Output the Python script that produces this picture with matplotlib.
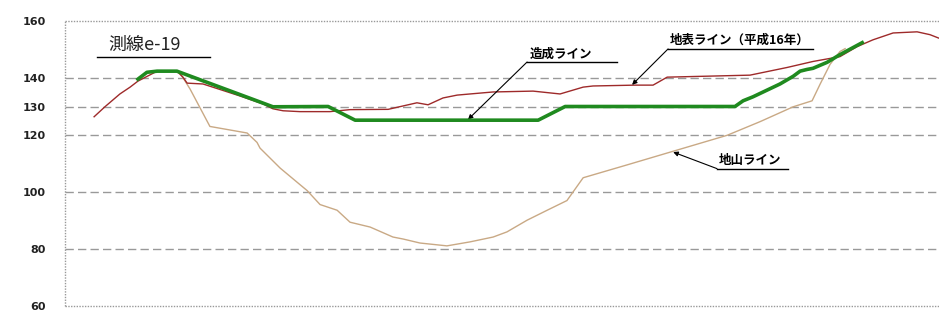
import matplotlib.pyplot as plt

plt.rcParams['font.family'] = ['Noto Sans CJK JP', 'DejaVu Sans']

# station (m) / elevation (m)
ground_x = [9.7, 13.3, 18.3, 21.7, 24.3, 30.7, 37.3, 39.3, 40.7, 46.0, 58.3, 66.0, 69.3,
            72.7, 78.3, 88.3, 95.0, 107.7, 112.7, 117.3, 121.0, 126.0, 130.7, 135.0, 142.7,
            156.0, 165.0, 172.7, 176.0, 190.0, 196.0, 200.7, 228.3, 240.7, 249.3, 258.3,
            264.0, 269.3, 276.0, 284.0, 288.3, 291.7]
ground_y = [126.4, 129.9, 134.4, 136.8, 138.9, 142.4, 142.4, 140.3, 138.2, 137.9, 133.7, 130.9, 129.2,
            128.5, 128.2, 128.2, 128.9, 129.0, 130.2, 131.3, 130.6, 133.0, 134.0, 134.4, 135.1,
            135.4, 134.4, 136.8, 137.2, 137.5, 137.5, 140.3, 141.0, 143.7, 145.8, 147.5,
            151.0, 153.4, 155.8, 156.2, 155.2, 153.8]

plan_x = [24.3, 27.3, 30.7, 37.3, 69.3, 87.7, 96.7, 157.7, 166.7, 223.3, 226.0, 229.3,
          238.3, 242.7, 245.0, 247.3, 249.3, 254.0, 258.3, 265.7]
plan_y = [139.6, 142.0, 142.4, 142.4, 129.9, 130.0, 125.2, 125.2, 130.0, 130.0, 132.0, 133.4,
          137.9, 140.6, 142.4, 143.0, 143.4, 145.5, 148.2, 152.4]

base_x = [38.5, 41.7, 48.3, 60.7, 64.0, 65.0, 71.7, 78.3, 80.7, 85.0, 90.7, 95.0, 101.7,
          109.3, 112.7, 118.3, 127.3, 135.0, 142.7, 147.3, 154.0, 160.7, 167.3, 172.7,
          187.3, 202.7, 220.7, 231.7, 242.7, 249.0, 251.7, 255.0, 258.3, 260.0]
base_y = [141.5, 136.1, 123.0, 120.7, 117.4, 115.4, 108.4, 102.6, 100.5, 95.6, 93.6, 89.4, 87.7,
          84.2, 83.5, 82.1, 81.1, 82.5, 84.2, 86.0, 90.1, 93.6, 97.0, 105.0,
          109.5, 114.3, 119.9, 124.7, 129.9, 132.0, 137.9, 144.8, 149.3, 150.3]

yticks = [160, 140, 130, 120, 100, 80, 60]

fig = plt.figure(figsize=(9.39, 3.13), dpi=100)
ax = fig.add_axes([65 / 939, 7 / 313, 874 / 939, 285 / 313])
ax.set_xlim(0, 291.3)
ax.set_ylim(60, 160)

for v in [140, 130, 120, 100, 80]:
    ax.axhline(v, color="#999999", lw=1.0, ls=(0, (6, 3)), zorder=1)
for v in [160, 60]:
    ax.axhline(v, color="#999999", lw=1.0, ls=(0, (1, 1)), zorder=1, clip_on=False)
ax.axvline(0, color="#999999", lw=1.0, ls=(0, (1, 1)), zorder=1, clip_on=False)

for s in ax.spines.values():
    s.set_visible(False)
ax.set_xticks([])
ax.set_yticks(yticks)
ax.set_yticklabels([str(v) for v in yticks], family="DejaVu Sans", fontweight="bold",
                   fontsize=8, color="#222222")
ax.tick_params(axis="y", length=0, pad=14)

ax.plot(base_x, base_y, color="#c9a985", lw=1.0, zorder=2)
ax.plot(ground_x, ground_y, color="#9e2a2a", lw=1.0, zorder=3)
ax.plot(plan_x, plan_y, color="#1f8a1f", lw=2.6, zorder=4, solid_joinstyle="round")

# title
ax.text(14.3, 148.3, "測線e-19", fontsize=13, color="#222222", va="bottom", ha="left")
ax.plot([10.7, 48.3], [147.5, 147.5], color="black", lw=1.0, clip_on=False)

arrow = dict(arrowstyle="-|>", color="black", lw=0.8, mutation_scale=7, shrinkA=0, shrinkB=0)

# 造成ライン
ax.text(155.0, 146.2, "造成ライン", fontsize=9, fontweight="bold", va="bottom", ha="left")
ax.plot([154.0, 184.0], [145.6, 145.6], color="black", lw=1.0)
ax.annotate("", xy=(134.3, 125.4), xytext=(154.0, 145.6), arrowprops=arrow)

# 地表ライン
ax.text(201.5, 150.8, "地表ライン（平成16年）", fontsize=9, fontweight="bold", va="bottom", ha="left")
ax.plot([201.0, 249.3], [150.2, 150.2], color="black", lw=1.0)
ax.annotate("", xy=(189.0, 137.6), xytext=(201.0, 150.2), arrowprops=arrow)

# 地山ライン
ax.text(217.8, 108.8, "地山ライン", fontsize=9, fontweight="bold", va="bottom", ha="left")
ax.plot([217.3, 241.0], [108.2, 108.2], color="black", lw=1.0)
ax.annotate("", xy=(202.7, 114.0), xytext=(217.3, 108.2), arrowprops=arrow)

fig.savefig("out.png", dpi=100)
